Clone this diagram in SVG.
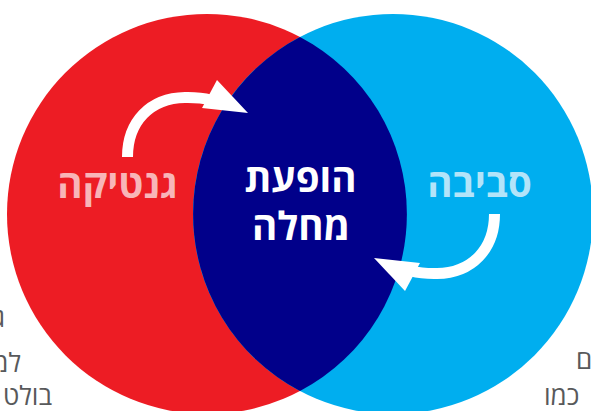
<svg xmlns="http://www.w3.org/2000/svg" width="591" height="411" viewBox="0 0 591 411">
<style>
  .lbl { font-family: "Open Sans", "Liberation Sans", "DejaVu Sans", sans-serif; font-weight: 700; font-size: 38.5px; text-anchor: middle; }
  .page { font-family: "Open Sans", "Liberation Sans", "DejaVu Sans", sans-serif; font-size: 26px; fill: #58595b; }
  .arrow { fill: none; stroke: #ffffff; stroke-width: 11; }
</style>
<defs>
  <g id="arrowShape">
    <path class="arrow" d="M127.5,157 C127.5,122 150,98 185,97.5 C195,97.3 203,98 211,100"/>
    <polygon points="248,113 217,80 202,108" fill="#ffffff"/>
  </g>
</defs>
<rect width="591" height="411" fill="#ffffff"/>
<g id="page-text">
  <text class="page" x="5" y="327" text-anchor="end">ג</text>
  <text class="page" x="21" y="372" text-anchor="end">למ</text>
  <text class="page" x="52" y="405" text-anchor="end">בולט</text>
  <text class="page" x="576" y="369">ם</text>
  <text class="page" x="544" y="405">כמו</text>
</g>
<g id="genetics">
  <circle cx="207" cy="214" r="200" fill="#ed1c24"/>
</g>
<g id="environment">
  <circle cx="393" cy="214" r="200" fill="#00aeef"/>
</g>
<g id="disease">
  <path d="M300,37 A200,200 0 0 1 300,391 A200,200 0 0 1 300,37 Z" fill="#01008a"/>
</g>
<g id="connectors">
  <use href="#arrowShape"/>
  <use href="#arrowShape" transform="rotate(180 311 185.5)"/>
</g>
<g id="labels">
  <text class="lbl" x="117.5" y="198" fill="#f8b5b8">גנטיקה</text>
  <text class="lbl" x="300.5" y="192" fill="#ffffff">הופעת</text>
  <text class="lbl" x="301" y="240" fill="#ffffff">מחלה</text>
  <text class="lbl" x="479.5" y="197" fill="#b3e4f9">סביבה</text>
</g>
</svg>
